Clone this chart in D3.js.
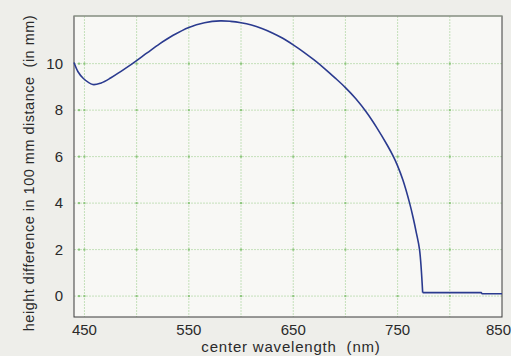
<!DOCTYPE html>
<html>
<head>
<meta charset="utf-8">
<script src="https://cdn.jsdelivr.net/npm/d3@7"></script>
<style>
  html, body { margin: 0; padding: 0; background: #eeeeea; }
  svg { display: block; }
  text { font-family: "Liberation Sans", Arial, sans-serif; fill: #2a2a2a; }
</style>
</head>
<body>
<svg id="plot"></svg>
<script>
// wavelength (nm) and height difference (mm)
const wavelength = [440, 444, 449, 458, 466, 475, 485, 496, 510, 522, 535, 550, 565, 580, 590, 600, 610, 620, 630, 640, 650, 660, 670, 680, 690, 700, 710, 720, 730, 740, 746, 750, 755, 761.5, 765, 768, 771, 774, 830, 831, 850];
const heightDiff = [10.05, 9.64, 9.36, 9.1, 9.17, 9.38, 9.67, 10.0, 10.46, 10.85, 11.22, 11.56, 11.76, 11.84, 11.82, 11.76, 11.66, 11.51, 11.32, 11.09, 10.81, 10.5, 10.16, 9.79, 9.39, 8.97, 8.49, 7.92, 7.25, 6.5, 6.0, 5.6, 5.0, 4.0, 3.35, 2.71, 2.0, 0.15, 0.15, 0.1, 0.1];
const cutoffWavelength = 774; // bottom of the drop, flat tail after it
const xTickLabels = [450, 550, 650, 750, 850];
const xGrid = [450, 500, 550, 600, 650, 700, 750, 800];
const yTicks = [0, 2, 4, 6, 8, 10];

const data = wavelength.map((w, i) => ({ x: w, y: heightDiff[i] }));
const smoothPart = data.filter(d => d.x <= cutoffWavelength);
const flatPart = data.filter(d => d.x >= cutoffWavelength);

const W = 511, H = 356;
const margin = { top: 16, left: 74, right: 9, bottom: 39 };
const width = W - margin.left - margin.right;
const height = H - margin.top - margin.bottom;

const svg = d3.select("#plot").attr("width", W).attr("height", H);

const xScale = d3.scaleLinear().domain([440, 850]).range([margin.left, margin.left + width]);
const yScale = d3.scaleLinear().domain([-0.9, 12.05]).range([margin.top + height, margin.top]);

// plot background
svg.append("rect")
    .attr("x", margin.left).attr("y", margin.top)
    .attr("width", width).attr("height", height)
    .attr("fill", "#f8f8f5");

// grid
const grid = svg.append("g");
grid.selectAll(".vg").data(xGrid).join("line")
    .attr("x1", d => xScale(d)).attr("x2", d => xScale(d))
    .attr("y1", margin.top).attr("y2", margin.top + height)
    .attr("stroke", "#c4e0ba").attr("stroke-width", 1)
    .attr("stroke-dasharray", "2,1");
grid.selectAll(".hg").data(yTicks).join("line")
    .attr("x1", margin.left).attr("x2", margin.left + width)
    .attr("y1", d => yScale(d)).attr("y2", d => yScale(d))
    .attr("stroke", "#c4e0ba").attr("stroke-width", 1)
    .attr("stroke-dasharray", "2,1");

// small marks at the grid crossings
const cross = [];
xGrid.forEach(x => yTicks.forEach(y => cross.push({ x, y })));
grid.selectAll(".cx").data(cross).join("rect")
    .attr("x", d => xScale(d.x) - 1).attr("y", d => yScale(d.y) - 1)
    .attr("width", 2).attr("height", 2)
    .attr("fill", "#8cc57c");
grid.selectAll(".lx").data(yTicks).join("rect")
    .attr("x", margin.left + 4).attr("y", d => yScale(d) - 1)
    .attr("width", 2).attr("height", 2).attr("fill", "#8cc57c");

// frame
svg.append("rect")
    .attr("x", margin.left).attr("y", margin.top)
    .attr("width", width).attr("height", height)
    .attr("fill", "none").attr("stroke", "#3a3a3a").attr("stroke-width", 1);
svg.append("line")
    .attr("x1", margin.left).attr("x2", margin.left + width)
    .attr("y1", margin.top).attr("y2", margin.top)
    .attr("stroke", "#a9b8a4").attr("stroke-width", 1.2);

// curve: smooth part down to the cutoff, then the flat tail
const smoothLine = d3.line()
    .x(d => xScale(d.x))
    .y(d => yScale(d.y))
    .curve(d3.curveCatmullRom.alpha(0.5));
const straightLine = d3.line()
    .x(d => xScale(d.x))
    .y(d => yScale(d.y));
svg.append("path")
    .datum(smoothPart)
    .attr("d", smoothLine)
    .attr("fill", "none")
    .attr("stroke", "#2b3b8f")
    .attr("stroke-width", 1.6);
svg.append("path")
    .datum(flatPart)
    .attr("d", straightLine)
    .attr("fill", "none")
    .attr("stroke", "#2b3b8f")
    .attr("stroke-width", 1.6);

// tick labels
svg.append("g").selectAll("text").data(yTicks).join("text")
    .attr("x", 63).attr("y", d => yScale(d) + 5)
    .attr("text-anchor", "end")
    .attr("font-size", 15)
    .text(d => d);
svg.append("g").selectAll("text").data(xTickLabels).join("text")
    .attr("x", d => d === 850 ? W : xScale(d))
    .attr("y", 335)
    .attr("text-anchor", d => d === 850 ? "end" : "middle")
    .attr("font-size", 15)
    .text(d => d);

// axis titles
svg.append("text")
    .attr("x", 291).attr("y", 352)
    .attr("text-anchor", "middle")
    .attr("font-size", 15)
    .attr("letter-spacing", 0.8)
    .attr("xml:space", "preserve")
    .text("center wavelength  (nm)");
svg.append("text")
    .attr("transform", "translate(34,173) rotate(-90)")
    .attr("text-anchor", "middle")
    .attr("font-size", 14.5)
    .attr("letter-spacing", 0.5)
    .attr("xml:space", "preserve")
    .text("height difference in 100 mm distance  (in mm)");
</script>
</body>
</html>
